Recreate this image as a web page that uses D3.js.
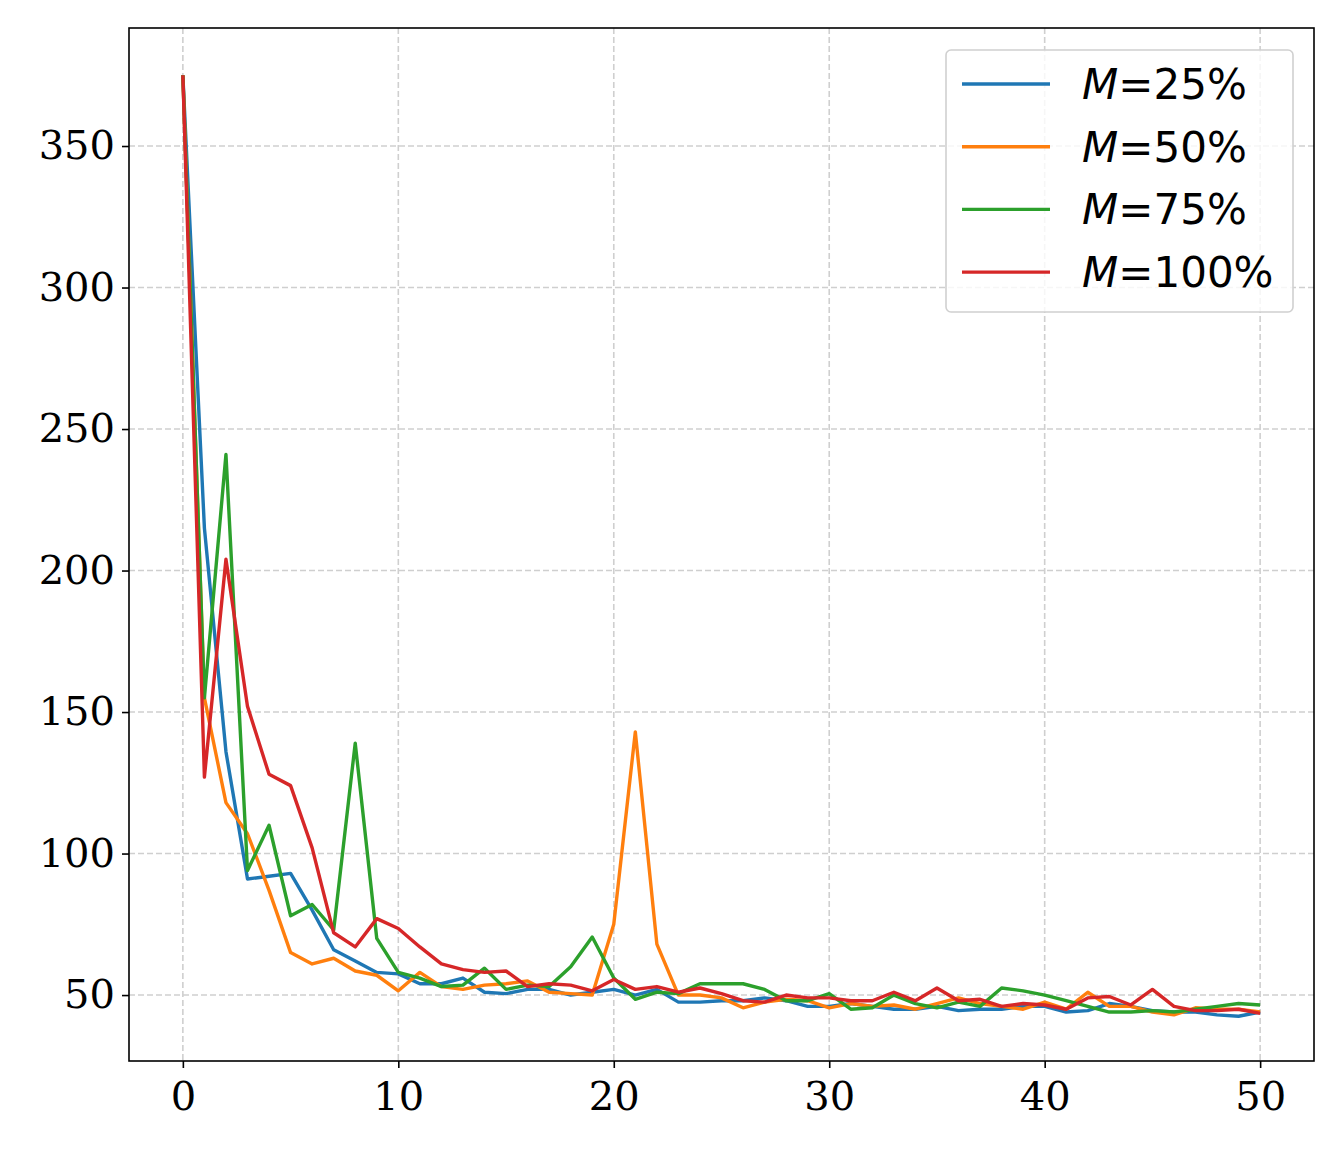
<!DOCTYPE html>
<html><head><meta charset="utf-8">
<script src="https://cdn.jsdelivr.net/npm/d3@7"></script>
<style>body{margin:0;background:#fff}</style>
</head><body><svg id="chart" width="1344" height="1152"></svg>
<script>
const labels = ["25%", "50%", "75%", "100%"];
const colors = ["#1f77b4", "#ff7f0e", "#2ca02c", "#d62728"];
const xTicks = [0, 10, 20, 30, 40, 50];
const yTicks = [50, 100, 150, 200, 250, 300, 350];
const m25 = [375,215,136,91,92,93,80,66,62,58,57.5,54,54,56,51,50.5,52,52,50,51,52,50,52,47.5,47.5,48,48,49,48,46,46,47,46,45,45,46,44.5,45,45,46,46,44,44.5,47,46,44.5,44,44,43,42.5,44];
const m50 = [375,155,118,107,87,65,61,63,58.5,57,51.5,58,53,52,53.5,54,55,51,50.5,50,75,143,68,50,50,49,45.5,47.5,48.5,48,45.5,47,46,46.5,45,47,49,47,46,45,47.5,45,51,46,46,44,43,45.5,45,45,44];
const m75 = [375,155,241,94,110,78,82,73,139,70,58,56,53,53.5,59.5,52,53.5,53,60,70.5,56,48.5,51,50.5,54,54,54,52,48,48,50.5,45,45.5,50,47,45.5,47.5,46,52.5,51.5,50,48,46,44,44,44.5,44,45,46,47,46.5];
const m100 = [375,127,204,152,128,124,102,72,67,77,73.5,67,61,59,58,58.5,53,54,53.5,51.5,55.5,52,53,51,52.5,50.5,48,47.5,50,49,49,48,48,51,48,52.5,48,48.5,46,47,46.5,45,49,49.5,46.5,52,46,44.5,44.5,45,43.5];
const series = [m25, m50, m75, m100];

const L = 129, R = 1314, T = 28, B = 1061;
const svg = d3.select("#chart");
const x = d3.scaleLinear().domain([-2.5, 52.5]).range([L, R]);
const y = d3.scaleLinear().domain([26.7, 391.7]).range([B, T]);

/* grid */
svg.append("g").selectAll("line.gx").data(xTicks).join("line")
  .attr("x1", d => x(d)).attr("x2", d => x(d)).attr("y1", T).attr("y2", B)
  .attr("stroke", "#cfcfcf").attr("stroke-width", 1.6).attr("stroke-dasharray", "6,3");
svg.append("g").selectAll("line.gy").data(yTicks).join("line")
  .attr("y1", d => y(d)).attr("y2", d => y(d)).attr("x1", L).attr("x2", R)
  .attr("stroke", "#cfcfcf").attr("stroke-width", 1.6).attr("stroke-dasharray", "6,3");

/* lines */
const line = d3.line().x((d, i) => x(i)).y(d => y(d));
series.forEach((s, k) => {
  svg.append("path").datum(s).attr("d", line)
    .attr("fill", "none").attr("stroke", colors[k]).attr("stroke-width", 3.4)
    .attr("stroke-linejoin", "round");
});

/* axes */
const ax = svg.append("g").attr("transform", `translate(0,${B})`)
  .call(d3.axisBottom(x).tickValues(xTicks).tickSize(7).tickPadding(8));
const ay = svg.append("g").attr("transform", `translate(${L},0)`)
  .call(d3.axisLeft(y).tickValues(yTicks).tickSize(7).tickPadding(7));
[ax, ay].forEach(a => {
  a.select(".domain").remove();
  a.selectAll("line").attr("stroke", "#000").attr("stroke-width", 1.6);
  a.selectAll("text").attr("font-family", "DejaVu Serif").attr("font-size", 40).attr("fill", "#000");
});
ax.selectAll("text").attr("dy", "0.85em");
svg.append("rect").attr("x", L).attr("y", T).attr("width", R - L).attr("height", B - T)
  .attr("fill", "none").attr("stroke", "#000").attr("stroke-width", 1.6);

/* legend */
const lg = svg.append("g");
lg.append("rect").attr("x", 946).attr("y", 50).attr("width", 347).attr("height", 262).attr("rx", 5)
  .attr("fill", "#fff").attr("fill-opacity", 0.8).attr("stroke", "#d0d0d0").attr("stroke-width", 1.6);
labels.forEach((lab, k) => {
  const yy = 84 + k * 62.7;
  lg.append("line").attr("x1", 962).attr("x2", 1050).attr("y1", yy).attr("y2", yy)
    .attr("stroke", colors[k]).attr("stroke-width", 3.4);
  const t = lg.append("text").attr("x", 1082).attr("y", yy + 15)
    .attr("font-family", "DejaVu Sans").attr("font-size", 42).attr("fill", "#000");
  t.append("tspan").attr("font-style", "italic").text("M");
  t.append("tspan").text("=" + lab);
});
</script></body></html>
